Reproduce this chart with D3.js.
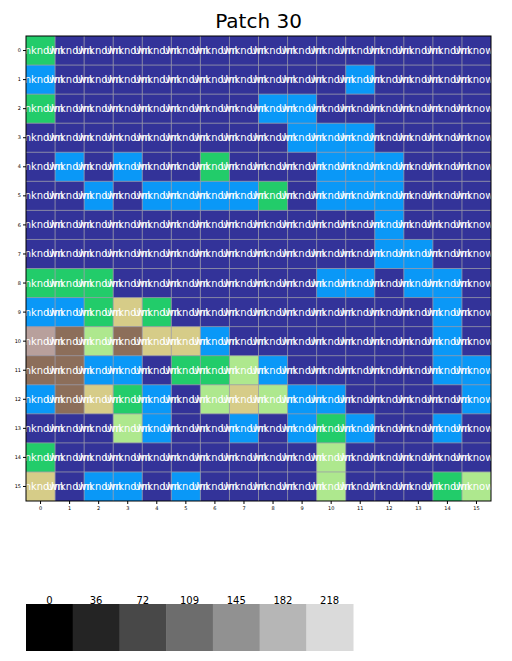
<!DOCTYPE html>
<html>
<head>
<script src="https://cdn.jsdelivr.net/npm/d3@7"></script>
<style>
  body { margin: 0; background: #fff; }
  text { font-family: "DejaVu Sans", sans-serif; }
</style>
</head>
<body>
<script>
  // land class per cell, rows top to bottom
  var classes = [0, 1, 2, 3, 4, 5, 6];
  var grid = [
    [2,0,0,0,0,0,0,0,0,0,0,0,0,0,0,0],
    [1,0,0,0,0,0,0,0,0,0,0,1,0,0,0,0],
    [2,0,0,0,0,0,0,0,1,1,0,0,0,0,0,0],
    [0,0,0,0,0,0,0,0,0,1,1,1,0,0,0,0],
    [0,1,0,1,0,0,2,0,0,0,1,1,1,0,0,0],
    [0,0,1,0,1,1,1,1,2,0,1,1,1,0,0,0],
    [0,0,0,0,0,0,0,0,0,0,0,0,1,0,0,0],
    [0,0,0,0,0,0,0,0,0,0,0,0,1,1,0,0],
    [2,2,2,0,0,0,0,0,0,0,1,1,0,1,1,0],
    [1,1,2,4,2,0,0,0,0,0,0,0,0,0,1,0],
    [6,5,3,5,4,4,1,0,0,0,0,0,0,0,1,0],
    [5,5,1,1,0,2,2,3,1,0,0,0,0,0,1,1],
    [1,5,4,2,1,0,3,4,3,1,1,0,0,0,0,1],
    [0,0,0,3,1,0,0,1,0,1,2,1,0,0,1,0],
    [2,0,0,0,0,0,0,0,0,0,3,0,0,0,0,0],
    [4,0,1,1,0,1,0,0,0,0,3,0,0,0,2,3]
  ];
  var cellLabel = "Unknown";
  var tickLabels = d3.range(16);
  var barValues = [0, 36, 72, 109, 145, 182, 218];

  var W = 512, H = 661;
  var m = { left: 26, top: 36, size: 465 };

  var svg = d3.select("body").append("svg")
    .attr("width", W).attr("height", H);

  svg.append("text")
    .attr("x", m.left + m.size / 2).attr("y", 28)
    .attr("text-anchor", "middle")
    .attr("font-size", 20)
    .text("Patch 30");

  var x = d3.scaleBand().domain(tickLabels).range([m.left, m.left + m.size]);
  var y = d3.scaleBand().domain(tickLabels).range([m.top, m.top + m.size]);
  var color = d3.scaleOrdinal()
    .domain(classes)
    .range(["#333399", "#0a98f7", "#22cc6a", "#aee88e", "#d6cc88", "#8c6e5a", "#b8a09c"]);

  var cells = [];
  grid.forEach(function (row, r) {
    row.forEach(function (v, c) { cells.push({ r: r, c: c, v: v }); });
  });

  svg.append("clipPath").attr("id", "clip")
    .append("rect")
    .attr("x", m.left).attr("y", m.top)
    .attr("width", m.size).attr("height", m.size);

  var plot = svg.append("g").attr("clip-path", "url(#clip)");

  plot.selectAll("rect.cell")
    .data(cells)
    .enter().append("rect")
    .attr("class", "cell")
    .attr("x", function (d) { return x(d.c); })
    .attr("y", function (d) { return y(d.r); })
    .attr("width", x.bandwidth() + 0.5)
    .attr("height", y.bandwidth() + 0.5)
    .attr("fill", function (d) { return color(d.v); });

  // grid lines at cell edges
  var edges = d3.range(1, 16);
  plot.selectAll("line.gx")
    .data(edges).enter().append("line")
    .attr("x1", function (d) { return x(d); }).attr("x2", function (d) { return x(d); })
    .attr("y1", m.top).attr("y2", m.top + m.size)
    .attr("stroke", "#9a9aa8").attr("stroke-width", 0.8);
  plot.selectAll("line.gy")
    .data(edges).enter().append("line")
    .attr("y1", function (d) { return y(d); }).attr("y2", function (d) { return y(d); })
    .attr("x1", m.left).attr("x2", m.left + m.size)
    .attr("stroke", "#9a9aa8").attr("stroke-width", 0.8);

  plot.selectAll("text.lab")
    .data(cells)
    .enter().append("text")
    .attr("class", "lab")
    .attr("x", function (d) { return x(d.c) + x.bandwidth() / 2; })
    .attr("y", function (d) { return y(d.r) + y.bandwidth() / 2; })
    .attr("dy", "0.35em")
    .attr("text-anchor", "middle")
    .attr("font-size", 10)
    .attr("fill", "#fff")
    .text(cellLabel);

  svg.append("rect")
    .attr("x", m.left).attr("y", m.top)
    .attr("width", m.size).attr("height", m.size)
    .attr("fill", "none").attr("stroke", "#000").attr("stroke-width", 1);

  svg.append("g")
    .attr("transform", "translate(0," + (m.top + m.size) + ")")
    .call(d3.axisBottom(x).tickSize(3).tickPadding(2))
    .call(function (g) {
      g.select(".domain").remove();
      g.selectAll("text").attr("font-size", 5);
    });

  svg.append("g")
    .attr("transform", "translate(" + m.left + ",0)")
    .call(d3.axisLeft(y).tickSize(3).tickPadding(2))
    .call(function (g) {
      g.select(".domain").remove();
      g.selectAll("text").attr("font-size", 5);
    });

  // grey legend bar
  var bx = d3.scaleBand().domain(barValues).range([26, 353]);
  var bar = svg.append("g");
  bar.selectAll("rect")
    .data(barValues).enter().append("rect")
    .attr("x", function (d) { return bx(d); })
    .attr("y", 604)
    .attr("width", bx.bandwidth() + 0.5)
    .attr("height", 47)
    .attr("fill", function (d) { return d3.rgb(d, d, d); });
  bar.selectAll("text")
    .data(barValues).enter().append("text")
    .attr("x", function (d) { return bx(d) + bx.bandwidth() / 2; })
    .attr("y", 604)
    .attr("text-anchor", "middle")
    .attr("font-size", 10)
    .text(function (d) { return d; });
</script>
</body>
</html>
